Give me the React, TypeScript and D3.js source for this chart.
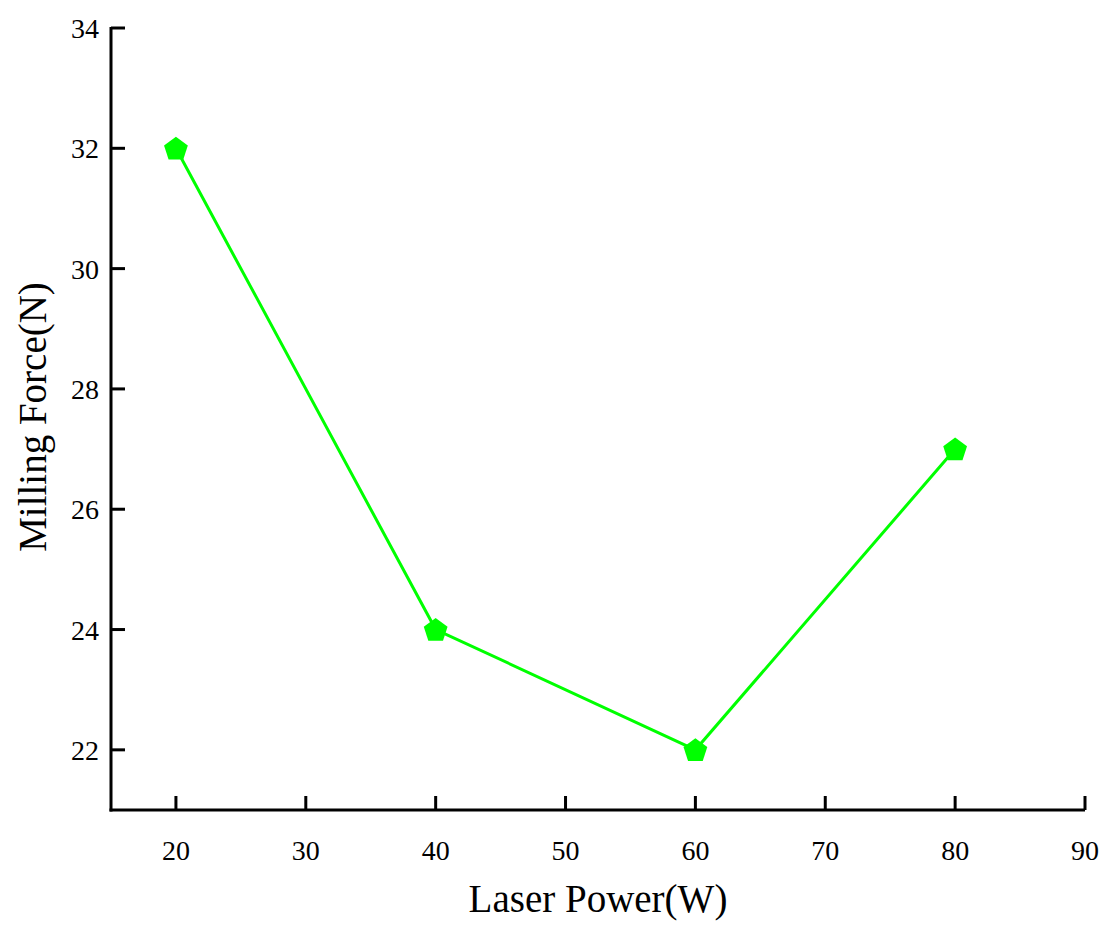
import React from "react";
import * as d3 from "d3";

const power = [20, 40, 60, 80];
const force = [32, 24, 22, 27];
const xTicks = [20, 30, 40, 50, 60, 70, 80, 90];
const yTicks = [22, 24, 26, 28, 30, 32, 34];

const W = 1113;
const H = 935;
const left = 111;
const right = 1085;
const top = 28;
const bottom = 810;

// regular pentagon, point up
const pentPoints = (r: number) =>
  d3.range(5).map((k) => {
    const a = -Math.PI / 2 + (k * 2 * Math.PI) / 5;
    return [r * Math.cos(a), r * Math.sin(a)].join(",");
  }).join(" ");

export default function App() {
  const x = d3.scaleLinear().domain([15, 90]).range([left, right]);
  const y = d3.scaleLinear().domain([21, 34]).range([bottom, top]);
  const line = d3.line<number>().x((_, i) => x(power[i])).y((d) => y(d));
  const font = "'Liberation Serif', 'DejaVu Serif', serif";
  return (
    <svg width={W} height={H} style={{ position: "absolute", left: 0, top: 0 }} fontFamily={font}>
      <rect width={W} height={H} fill="#fff" />
      <path d={line(force) ?? ""} fill="none" stroke="#00ff00" strokeWidth={3} />
      {force.map((d, i) => (
        <polygon key={i} points={pentPoints(12.5)} transform={`translate(${x(power[i])},${y(d) + 1})`} fill="#00ff00" />
      ))}
      <line x1={left} x2={left} y1={top - 1} y2={bottom + 1.5} stroke="#000" strokeWidth={3} />
      <line x1={left - 1.5} x2={right} y1={bottom} y2={bottom} stroke="#000" strokeWidth={3} />
      {xTicks.map((t) => (
        <g key={t}>
          <line x1={x(t)} x2={x(t)} y1={bottom} y2={bottom - 14} stroke="#000" strokeWidth={3} />
          <text x={x(t)} y={bottom + 50} textAnchor="middle" fontSize={28}>{t}</text>
        </g>
      ))}
      {yTicks.map((t) => (
        <g key={t}>
          <line x1={left} x2={left + 14} y1={y(t)} y2={y(t)} stroke="#000" strokeWidth={3} />
          <text x={left - 12} y={y(t) + 10} textAnchor="end" fontSize={28}>{t}</text>
        </g>
      ))}
      <text x={598} y={912} textAnchor="middle" fontSize={39}>Laser Power(W)</text>
      <text transform={`translate(46,${(top + bottom) / 2 - 2}) rotate(-90)`} textAnchor="middle" fontSize={39}>Milling Force(N)</text>
    </svg>
  );
}
